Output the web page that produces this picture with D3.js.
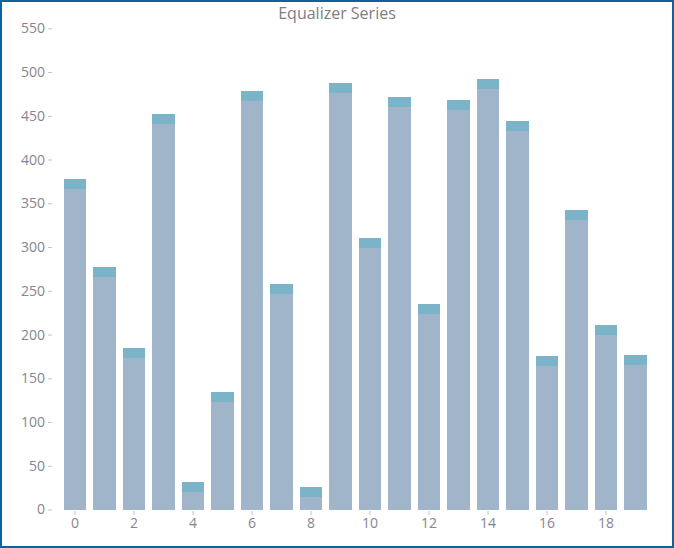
<!DOCTYPE html>
<html lang="en">
<head>
    <meta charset="UTF-8">
    <title>Equalizer Series</title>
    <style>
        body {
            margin: 0;
            background: #fff;
        }

        #chart {
            display: block;
        }

        .axis text {
            font-family: "Open Sans", "Liberation Sans", sans-serif;
            font-size: 14px;
            fill: #85858f;
        }

        .axis line {
            stroke: #c4c4c4;
        }

        .axis path {
            display: none;
        }

        .title {
            font-family: "Open Sans", "Liberation Sans", sans-serif;
            font-size: 16px;
            fill: #7d7d87;
        }

        .bars rect {
            shape-rendering: crispEdges;
        }
    </style>
</head>
<body>
    <svg id="chart"></svg>
    <script src="https://cdnjs.cloudflare.com/ajax/libs/d3/7.9.0/d3.min.js"></script>
    <script>
        // bar totals (top of the cap)
        const categories = d3.range(20);
        const values = [378, 277, 185, 452, 31, 134, 478, 258, 26, 487,
                         310, 471, 235, 468, 492, 444, 175, 342, 211, 177];
        const capSize = 11.5;   // height of the darker cap, in data units
        const yTicks = [0, 50, 100, 150, 200, 250, 300, 350, 400, 450, 500, 550];
        const xTicks = [0, 2, 4, 6, 8, 10, 12, 14, 16, 18];

        const w = 674;
        const h = 548;

        const svg = d3.select("#chart")
            .attr("width", w)
            .attr("height", h);

        // frame
        svg.append("rect")
            .attr("x", 1)
            .attr("y", 1)
            .attr("width", w - 2)
            .attr("height", h - 2)
            .attr("fill", "#fff")
            .attr("stroke", "#0e639b")
            .attr("stroke-width", 2);

        const x = d3.scaleBand()
            .domain(categories)
            .range([60.3, 650.3])
            .paddingInner(0.25)
            .paddingOuter(0.125);

        const y = d3.scaleLinear()
            .domain([0, 550])
            .range([509.5, 28.3]);

        // y axis
        svg.append("g")
            .attr("class", "axis")
            .attr("transform", "translate(52,0)")
            .call(d3.axisLeft(y).tickValues(yTicks).tickSize(4).tickPadding(3));

        // x axis
        svg.append("g")
            .attr("class", "axis")
            .attr("transform", "translate(0,511)")
            .call(d3.axisBottom(x).tickValues(xTicks).tickSize(4).tickPadding(3));

        const bars = svg.append("g").attr("class", "bars");

        // full bars, caps drawn over their tops
        bars.selectAll(".bar")
            .data(values)
            .enter()
            .append("rect")
            .attr("class", "bar")
            .attr("x", (d, i) => x(i))
            .attr("y", d => y(d))
            .attr("width", x.bandwidth())
            .attr("height", d => y(0) - y(d))
            .attr("fill", "#a0b5c9");

        bars.selectAll(".cap")
            .data(values)
            .enter()
            .append("rect")
            .attr("class", "cap")
            .attr("x", (d, i) => x(i))
            .attr("y", d => y(d))
            .attr("width", x.bandwidth())
            .attr("height", d => y(d - capSize) - y(d))
            .attr("fill", "#7bb4c9");

        svg.append("text")
            .attr("class", "title")
            .attr("x", 337)
            .attr("y", 19)
            .attr("text-anchor", "middle")
            .text("Equalizer Series");
    </script>
</body>
</html>
